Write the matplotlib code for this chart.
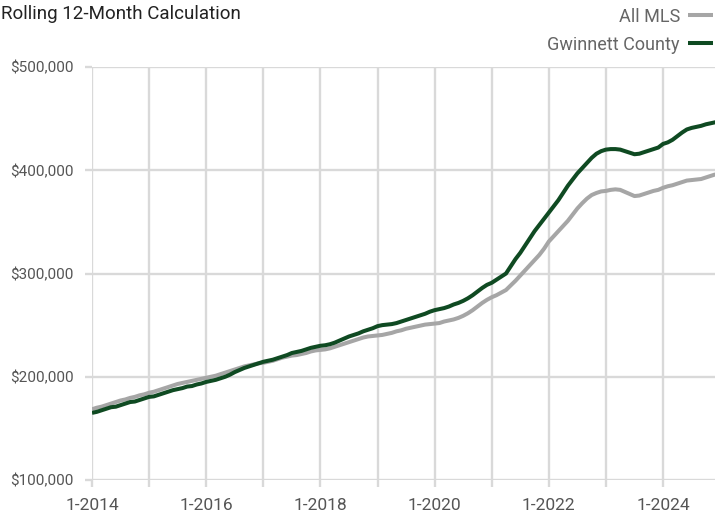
import matplotlib
matplotlib.use("Agg")
import matplotlib.pyplot as plt
import matplotlib.ticker as mticker
import numpy as np

plt.rcParams['font.family'] = ['Liberation Sans Narrow', 'Roboto', 'DejaVu Sans']

# Monthly rolling 12-month values, Jan 2014 - Dec 2024 (thousands of $)
years = list(range(2014, 2025))
gwinnett_k = [
    165, 166, 167.5, 169, 170.5, 171, 172.5, 174, 175.5, 176, 177.5, 179,        # 2014
    180.5, 181, 182.5, 184, 185.5, 187, 188, 189, 190.5, 191, 192.5, 193.5,      # 2015
    195, 196, 197, 198.5, 200, 202, 204.5, 206.5, 208.5, 210, 211.5, 213,        # 2016
    214.5, 215.5, 216.5, 218, 219.5, 221, 223, 224, 225, 226.5, 228, 229,        # 2017
    230, 230.5, 231.5, 233, 235, 237, 239, 240.5, 242, 244, 245.5, 247,          # 2018
    249, 250, 250.5, 251, 252, 253.5, 255, 256.5, 258, 259.5, 261, 263,          # 2019
    264.5, 265.5, 266.5, 268, 270, 271.5, 273.5, 276, 279, 282.5, 286, 289,      # 2020
    291, 294, 297, 300, 307, 314, 320, 327, 334, 341, 347, 353,                  # 2021
    359, 365, 371, 378, 385, 391, 397, 402, 407, 412, 416, 418.5,                # 2022
    420, 420.5, 420.5, 420, 418.5, 417, 415.5, 416, 417.5, 419, 420.5, 422,      # 2023
    425.5, 427, 429.5, 433, 436.5, 439.5, 441, 442, 443, 444.5, 445.5, 446.5,    # 2024
]
all_mls_k = [
    168.5, 170, 171, 172.5, 174, 175.5, 177, 178, 179.5, 180.5, 182, 183,        # 2014
    184.5, 185.5, 187, 188.5, 190, 191.5, 193, 194, 195, 196, 197, 198,          # 2015
    199, 200, 201, 202.5, 204, 205.5, 207, 208.5, 210, 211, 212, 213,            # 2016
    213.5, 214.5, 215.5, 217, 218.5, 219.5, 220.5, 221, 222, 223, 224.5, 225.5,  # 2017
    226, 226.5, 227.5, 229, 230.5, 232, 233.5, 235, 236.5, 238, 239, 239.5,      # 2018
    240, 240.5, 241.5, 242.5, 244, 245, 246.5, 247.5, 248.5, 249.5, 250.5, 251,  # 2019
    251.5, 252, 253.5, 254.5, 255.5, 257, 259, 261.5, 264.5, 268, 271.5, 274.5,  # 2020
    277, 279, 281.5, 284, 288.5, 293, 298, 303, 308, 313, 318, 324,              # 2021
    331, 336, 341, 346, 351, 357, 363, 368, 372.5, 376, 378, 379.5,              # 2022
    380, 381, 381.5, 381, 379, 377, 375, 375.5, 377, 378.5, 380, 381,            # 2023
    383, 384.5, 385.5, 387, 388.5, 390, 390.5, 391, 391.5, 393, 394.5, 396,      # 2024
]
series_names = ["All MLS", "Gwinnett County"]
y_ticks = [100000, 200000, 300000, 400000, 500000]
x_label_years = [2014, 2016, 2018, 2020, 2022, 2024]

n = len(gwinnett_k)
t = np.array([years[0] + i / 12.0 for i in range(n)])
gw = np.array(gwinnett_k) * 1000
mls = np.array(all_mls_k) * 1000

grid_c = '#d9d9d9'
fig = plt.figure(figsize=(7.15, 5.15), dpi=100)
ax = fig.add_axes([92 / 715, 1 - 480 / 515, 1 - 92 / 715, (480 - 67) / 515])

l1, = ax.plot(t, mls, color='#a6a6a6', lw=2.9, solid_capstyle='butt', label=series_names[0], zorder=3)
l2, = ax.plot(t, gw, color='#0f4a22', lw=2.9, solid_capstyle='butt', label=series_names[1], zorder=4)

ax.set_xlim(years[0], years[0] + 10.91)
ax.set_ylim(y_ticks[0], y_ticks[-1])
ax.set_yticks(y_ticks)
ax.yaxis.set_major_formatter(mticker.FuncFormatter(lambda v, p: "${:,.0f}".format(v)))
ax.set_xticks(years)
ax.set_xticklabels([f"1-{y}" if y in x_label_years else "" for y in years])

ax.grid(True, color=grid_c, lw=1.7, zorder=0)
ax.set_axisbelow(True)
for s in ax.spines.values():
    s.set_visible(False)
ax.tick_params(axis='y', length=5, width=1.7, color=grid_c, pad=8, labelsize=11, labelcolor='#555555')
ax.tick_params(axis='x', length=5, width=1.7, color=grid_c, pad=8, labelsize=12.5, labelcolor='#555555')

fig.text(0.002, 1 - 14 / 515, "Rolling 12-Month Calculation", fontsize=13.5, color='#222222',
         ha='left', va='center')

leg = fig.legend(handles=[l1, l2], loc='upper right', bbox_to_anchor=(1.0, 1 - 6 / 515),
                 frameon=False, markerfirst=False, fontsize=13, handlelength=1.4,
                 handletextpad=0.45, labelspacing=0.55, borderaxespad=0.0, borderpad=0.1,
                 labelcolor='#666666')

fig.savefig("out.png", dpi=100)
